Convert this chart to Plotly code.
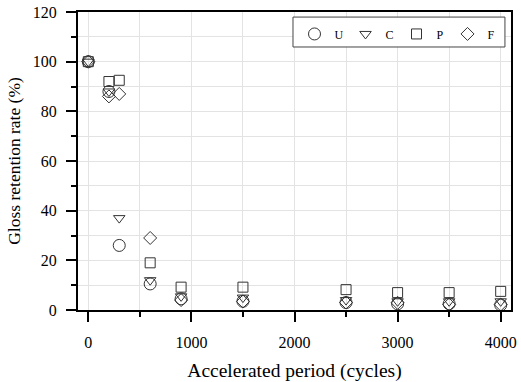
import plotly.graph_objects as go

cycles = [0, 200, 300, 600, 900, 1500, 2500, 3000, 3500, 4000]
U = [100, 88, 26, 10.5, 4.5, 3.5, 3.0, 2.5, 2.5, 2.0]
C = [100, 88, 37, 12, 5.5, 5.0, 4.0, 3.5, 3.5, 3.5]
P = [100, 92, 92.5, 19, 9.2, 9.2, 8.2, 7.0, 7.0, 7.5]
F = [100, 86, 87, 29, 4.0, 3.4, 3.0, 2.9, 2.2, 2.2]

series = [("U", U, "circle-open", 12), ("C", C, "triangle-down-open", 10),
          ("P", P, "square-open", 10), ("F", F, "diamond-open", 10)]

fig = go.Figure()
for name, vals, sym, sz in series:
    fig.add_trace(go.Scatter(
        x=cycles, y=vals, mode="markers", name=name,
        marker=dict(symbol=sym, size=sz, color="#333333", line=dict(width=1, color="#333333")),
    ))

font = "Liberation Serif, Times New Roman, serif"
axis_common = dict(
    showline=True, linewidth=2, linecolor="black", mirror=True,
    ticks="outside", ticklen=10, tickwidth=2, tickcolor="black",
    showgrid=True, gridcolor="#e3e3e3", gridwidth=1, zeroline=False,
    tickfont=dict(family=font, size=16, color="black"),
    automargin=False,
)
fig.update_xaxes(
    range=[-100, 4100], tickvals=[0, 1000, 2000, 3000, 4000],
    minor=dict(dtick=500, ticks="outside", ticklen=5, tickwidth=2, tickcolor="black",
               showgrid=True, gridcolor="#e3e3e3"),
    ticklabelstandoff=7,
    title=dict(text="Accelerated period (cycles)", font=dict(family=font, size=19.5, color="black"), standoff=22),
    **axis_common,
)
fig.update_yaxes(
    range=[0, 120], dtick=20,
    minor=dict(dtick=10, ticks="outside", ticklen=5, tickwidth=2, tickcolor="black",
               showgrid=True, gridcolor="#e3e3e3"),
    ticklabelstandoff=6,
    title=dict(text="Gloss retention rate (%)", font=dict(family=font, size=17.5, color="black"), standoff=8),
    **axis_common,
)
# legend frame
fig.add_shape(type="rect", xref="paper", yref="paper",
              x0=0.4965, x1=0.986, y0=0.8826, y1=0.983,
              fillcolor="white", line=dict(color="#444444", width=1), layer="above")
fig.update_layout(
    width=521, height=382,
    margin=dict(l=78, r=10, t=12, b=72, autoexpand=False),
    plot_bgcolor="white", paper_bgcolor="white",
    showlegend=True,
    legend=dict(
        orientation="h", x=0.5, y=0.975, xanchor="left", yanchor="top",
        bgcolor="rgba(0,0,0,0)", borderwidth=0,
        font=dict(family=font, size=12, color="black"),
        entrywidth=6, entrywidthmode="pixels",
    ),
)
fig.write_html("out.html", config={"displayModeBar": False},
               post_script="document.body.style.margin='0px';document.body.style.padding='0px';")
